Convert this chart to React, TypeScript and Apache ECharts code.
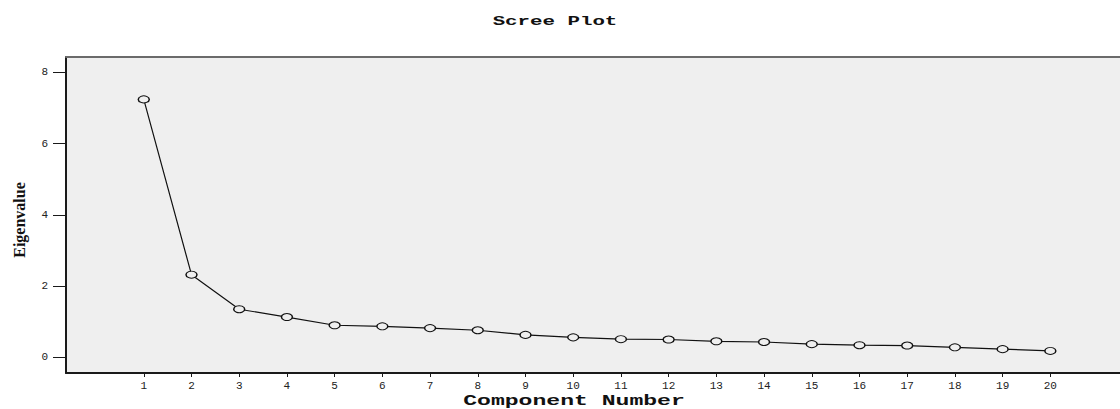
import React, { useEffect, useRef } from "react";
import * as echarts from "echarts";

const components = [1, 2, 3, 4, 5, 6, 7, 8, 9, 10, 11, 12, 13, 14, 15, 16, 17, 18, 19, 20];
const eigenvalues = [7.24, 2.32, 1.35, 1.13, 0.9, 0.87, 0.82, 0.76, 0.63, 0.56, 0.51, 0.5, 0.45, 0.43, 0.37, 0.34, 0.33, 0.28, 0.23, 0.18];
const yTicks = [0, 2, 4, 6, 8];
const titleText = "Scree Plot";
const xName = "Component Number";
const yName = "Eigenvalue";

export default function App() {
  const ref = useRef<HTMLDivElement>(null);
  useEffect(() => {
    if (!ref.current) return;
    const chart = echarts.init(ref.current, null, { renderer: "svg" });
    const mono = "'Liberation Mono', 'DejaVu Sans Mono', monospace";
    chart.setOption({
      animation: false,
      backgroundColor: "#ffffff",
      grid: {
        left: 66,
        top: 57,
        right: 0,
        bottom: 36,
        show: true,
        backgroundColor: "#efefef",
        borderWidth: 0,
      },
      xAxis: [
        {
          type: "value",
          min: -0.63,
          max: 21.46,
          splitLine: { show: false },
          axisLine: { show: true, onZero: false, lineStyle: { color: "#1a1a1a", width: 2 } },
          axisTick: {
            show: true,
            length: 4,
            customValues: components,
            lineStyle: { color: "#1a1a1a", width: 1 },
          },
          axisLabel: {
            customValues: components,
            margin: 7,
            fontFamily: mono,
            fontSize: 11,
            color: "#222",
          },
        },
        {
          type: "value",
          position: "top",
          min: -0.63,
          max: 21.46,
          splitLine: { show: false },
          axisLine: { show: true, onZero: false, lineStyle: { color: "#6b6b6b", width: 2 } },
          axisTick: { show: false },
          axisLabel: { show: false },
        },
      ],
      yAxis: {
        type: "value",
        min: -0.44,
        max: 8.43,
        splitLine: { show: false },
        axisLine: { show: true, onZero: false, lineStyle: { color: "#1a1a1a", width: 2 } },
        axisTick: {
          show: true,
          length: 13,
          customValues: yTicks,
          lineStyle: { color: "#1a1a1a", width: 1 },
        },
        axisLabel: {
          customValues: yTicks,
          margin: 18,
          fontFamily: mono,
          fontSize: 11,
          color: "#222",
        },
      },
      graphic: [
        {
          type: "text",
          x: 555,
          y: 22,
          scaleX: 1.6,
          style: {
            text: titleText,
            fontFamily: mono,
            fontWeight: "bold",
            fontSize: 13,
            fill: "#111",
            align: "center",
            verticalAlign: "middle",
          },
        },
        {
          type: "text",
          x: 574,
          y: 401,
          scaleX: 1.65,
          style: {
            text: xName,
            fontFamily: mono,
            fontWeight: "bold",
            fontSize: 14,
            fill: "#111",
            align: "center",
            verticalAlign: "middle",
          },
        },
        {
          type: "text",
          x: 19,
          y: 220,
          rotation: Math.PI / 2,
          style: {
            text: yName,
            fontFamily: "'Liberation Serif', 'DejaVu Serif', serif",
            fontWeight: "bold",
            fontSize: 16,
            fill: "#111",
            align: "center",
            verticalAlign: "middle",
          },
        },
      ],
      series: [
        {
          type: "line",
          data: components.map((c, i) => [c, eigenvalues[i]]),
          symbol: "circle",
          symbolSize: [11, 7],
          lineStyle: { color: "#111", width: 1.2 },
          itemStyle: { color: "#efefef", borderColor: "#111", borderWidth: 1.2 },
          z: 3,
        },
      ],
    });
    return () => chart.dispose();
  }, []);
  return (
    <div
      ref={ref}
      style={{ position: "fixed", left: 0, top: 0, width: 1120, height: 409 }}
    />
  );
}
